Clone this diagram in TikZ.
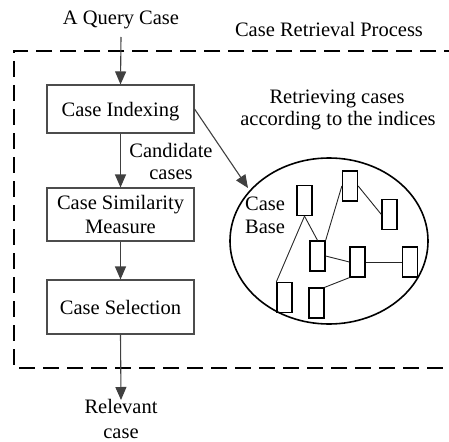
\documentclass[tikz,border=0pt]{standalone}
\usepackage{fontspec}
\setmainfont{Liberation Serif}
\usetikzlibrary{arrows.meta,shapes.geometric}
\begin{document}
\begin{tikzpicture}[x=1pt,y=-1pt,
  txt/.style={font=\fontsize{20.5}{24}\selectfont, inner sep=0pt},
  procbox/.style={draw=black!70, line width=1.1pt, minimum width=147pt, inner sep=0pt,
     font=\fontsize{20.5}{24}\selectfont, align=center, text depth=0pt},
  conn/.style={draw=black!75, line width=1.1pt},
  arr/.style={conn, -{Triangle[length=13pt,width=11pt]}},
  casebox/.style={draw=black, line width=1.3pt, minimum width=15pt, minimum height=30pt, inner sep=0pt},
  link/.style={draw=black!85, line width=0.9pt},
  frame/.style={draw=black, line width=2.3pt, dash pattern=on 16pt off 8pt}
]
\useasboundingbox (0,0) rectangle (449,441);
% dashed frame
\draw[frame] (460,51) -- (14,51) -- (14,368) -- (460,368);

% texts
\node[txt, anchor=base] (q) at (121,25) {A Query Case};
\node[txt, anchor=base] (crp) at (329,37) {Case Retrieval Process};
\node[txt, anchor=base] (ret1) at (337,103) {Retrieving cases};
\node[txt, anchor=base] (ret2) at (338,125) {according to the indices};
\node[txt, anchor=base] (cand1) at (171,157) {Candidate};
\node[txt, anchor=base] (cand2) at (171,179) {cases};
\node[txt, anchor=base] (rel1) at (121,413) {Relevant};
\node[txt, anchor=base] (rel2) at (121,438) {case};

% process boxes
\node[procbox, minimum height=48pt] (idx) at (120.5,109) {Case Indexing};
\node[procbox, minimum height=53pt] (sim) at (120.5,214.5) {Case Similarity\\Measure};
\node[procbox, minimum height=54pt] (sel) at (120.5,307) {Case Selection};

\coordinate (qs) at (121,37);
\coordinate (re) at (121,400);
\draw[arr] (qs) -- (idx.north);
\draw[arr] (idx.south) -- (sim.north);
\draw[arr] (sim.south) -- (sel.north);
\draw[arr] (sel.south) -- (re);

% case base
\node[draw=black, line width=1.6pt, ellipse, minimum width=198pt, minimum height=166pt, inner sep=0pt] (cb) at (329,241) {};
\node[txt, anchor=base] (cbt1) at (265,210) {Case};
\node[txt, anchor=base] (cbt2) at (265,233) {Base};
\coordinate (cbin) at (248,188);
\draw[arr] (idx.east) -- (cbin);

\node[casebox] (r1) at (304.5,200.5) {};
\node[casebox] (r2) at (350,186) {};
\node[casebox] (r3) at (389.5,214.5) {};
\node[casebox] (r4) at (317.5,256) {};
\node[casebox] (r5) at (357.5,262) {};
\node[casebox] (r6) at (410,262) {};
\node[casebox] (r7) at (284.5,297.5) {};
\node[casebox] (r8) at (316.5,303) {};

\draw[link] (r1.south) -- (r7.north west);
\draw[link] (r1.south) -- (r4.north);
\draw[link] (r4.north east) -- (r2.west);
\draw[link] (r2.east) -- (r3.west);
\draw[link] (r4.east) -- (r5.west);
\draw[link] (r5.east) -- (r6.west);
\draw[link] (r5.south west) -- (r8.north east);
\end{tikzpicture}
\end{document}
